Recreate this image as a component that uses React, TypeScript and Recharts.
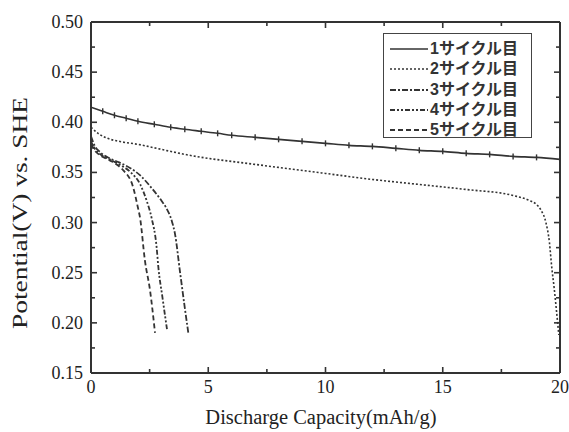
import React from "react";
import { LineChart, Line, XAxis, YAxis, Legend, Label } from "recharts";

// discharge capacity (mAh/g) and potential (V vs SHE) for each cycle
const CYCLE1_CAP = [0, 0.5, 1, 1.5, 2, 2.7, 3.4, 4, 4.7, 5.4, 6, 7, 8, 9, 10, 11, 12, 13, 14, 15, 16, 17, 18, 19, 20];
const CYCLE1_V = [0.415, 0.411, 0.407, 0.404, 0.401, 0.398, 0.395, 0.393, 0.391, 0.389, 0.387, 0.385, 0.383, 0.381, 0.379, 0.377, 0.376, 0.374, 0.372, 0.371, 0.369, 0.368, 0.366, 0.365, 0.363];

const CYCLE2_CAP = [0, 0.3, 0.7, 1.2, 2, 3, 4, 5, 6, 7, 8, 10, 12, 14, 16, 18, 18.7, 19, 19.2, 19.4, 19.55, 19.65, 19.75, 19.85, 19.95];
const CYCLE2_V = [0.395, 0.389, 0.384, 0.381, 0.378, 0.373, 0.368, 0.364, 0.361, 0.358, 0.355, 0.349, 0.343, 0.338, 0.333, 0.327, 0.322, 0.318, 0.312, 0.3, 0.28, 0.255, 0.235, 0.212, 0.188];

const CYCLE3_CAP = [0, 0.15, 0.4, 0.8, 1.2, 1.7, 2.1, 2.6, 3.0, 3.2, 3.44, 3.58, 3.8, 4.0, 4.15];
const CYCLE3_V = [0.386, 0.377, 0.37, 0.364, 0.36, 0.354, 0.347, 0.334, 0.322, 0.315, 0.302, 0.289, 0.25, 0.215, 0.19];

const CYCLE4_CAP = [0, 0.15, 0.4, 0.8, 1.2, 1.7, 2.1, 2.37, 2.58, 2.8, 2.87, 3.05, 3.25];
const CYCLE4_V = [0.381, 0.374, 0.368, 0.363, 0.358, 0.35, 0.338, 0.322, 0.305, 0.275, 0.256, 0.225, 0.192];

const CYCLE5_CAP = [0, 0.15, 0.4, 0.8, 1.2, 1.38, 1.8, 2.0, 2.09, 2.3, 2.52, 2.73];
const CYCLE5_V = [0.378, 0.372, 0.367, 0.362, 0.356, 0.352, 0.335, 0.315, 0.305, 0.262, 0.232, 0.19];

const CYCLE_LABELS = ["1サイクル目", "2サイクル目", "3サイクル目", "4サイクル目", "5サイクル目"];

const X_TICKS = [0, 2.5, 5, 7.5, 10, 12.5, 15, 17.5, 20];
const Y_TICKS = [0.15, 0.175, 0.2, 0.225, 0.25, 0.275, 0.3, 0.325, 0.35, 0.375, 0.4, 0.425, 0.45, 0.475, 0.5];

const toPoints = (cap: number[], v: number[]) => cap.map((x, i) => ({ x, y: v[i] }));

const SERIES = [
  { name: CYCLE_LABELS[0], data: toPoints(CYCLE1_CAP, CYCLE1_V), dash: undefined, width: 1.6 },
  { name: CYCLE_LABELS[1], data: toPoints(CYCLE2_CAP, CYCLE2_V), dash: "2 2", width: 1.6 },
  { name: CYCLE_LABELS[2], data: toPoints(CYCLE3_CAP, CYCLE3_V), dash: "6 2 2 2", width: 1.8 },
  { name: CYCLE_LABELS[3], data: toPoints(CYCLE4_CAP, CYCLE4_V), dash: "5 2 2 2 2 2", width: 1.8 },
  { name: CYCLE_LABELS[4], data: toPoints(CYCLE5_CAP, CYCLE5_V), dash: "5 3", width: 1.8 },
];

const W = 569;
const H = 432;
const PLOT_LEFT = 91;
const PLOT_RIGHT = 560;
const PLOT_TOP = 22;
const PLOT_BOTTOM = 373;
const INK = "#333";
const SERIF = "'Liberation Serif', 'DejaVu Serif', serif";

const isMajorY = (v: number) => Math.round(v * 1000) % 50 === 0;
const isMajorX = (v: number) => Math.round(v * 10) % 50 === 0;

const LeftTick = ({ y, payload }: any) => {
  const major = isMajorY(payload.value);
  return (
    <g>
      <line x1={PLOT_LEFT} x2={PLOT_LEFT + (major ? 6 : 4)} y1={y} y2={y} stroke={INK} strokeWidth={1.6} />
      {major && (
        <text x={PLOT_LEFT - 8} y={y} dy={6} textAnchor="end" fontFamily={SERIF} fontSize={18} fill="#222">
          {payload.value.toFixed(2)}
        </text>
      )}
    </g>
  );
};

const RightTick = ({ y, payload }: any) => {
  const major = isMajorY(payload.value);
  return <line x1={PLOT_RIGHT} x2={PLOT_RIGHT - (major ? 6 : 4)} y1={y} y2={y} stroke={INK} strokeWidth={1.6} />;
};

const BottomTick = ({ x, payload }: any) => {
  const major = isMajorX(payload.value);
  return (
    <g>
      <line x1={x} x2={x} y1={PLOT_BOTTOM} y2={PLOT_BOTTOM - (major ? 6 : 4)} stroke={INK} strokeWidth={1.6} />
      {major && (
        <text x={x} y={PLOT_BOTTOM + 20} textAnchor="middle" fontFamily={SERIF} fontSize={18} fill="#222">
          {payload.value}
        </text>
      )}
    </g>
  );
};

const TopTick = ({ x, payload }: any) => {
  const major = isMajorX(payload.value);
  return <line x1={x} x2={x} y1={PLOT_TOP} y2={PLOT_TOP + (major ? 6 : 4)} stroke={INK} strokeWidth={1.6} />;
};

const crossDot = (props: any) => (
  <line
    key={`c1-${props.index}`}
    x1={props.cx}
    x2={props.cx}
    y1={props.cy - 3}
    y2={props.cy + 3}
    stroke={INK}
    strokeWidth={1.4}
  />
);

const renderLegend = () => (
  <div
    style={{
      width: 149,
      height: 105,
      boxSizing: "border-box",
      border: "1.5px solid #444",
      background: "#fff",
      paddingTop: 5,
    }}
  >
    {SERIES.map((s) => (
      <div key={s.name} style={{ display: "flex", alignItems: "center", height: 20.3 }}>
        <svg width={46} height={10} style={{ flex: "none" }}>
          <line x1={6} x2={44} y1={5} y2={5} stroke={INK} strokeWidth={s.width} strokeDasharray={s.dash} />
        </svg>
        <span
          style={{
            fontFamily: "'Liberation Sans', 'Noto Sans CJK JP', sans-serif",
            fontSize: 16,
            fontWeight: 700,
            color: "#333",
            lineHeight: "18px",
            whiteSpace: "nowrap",
          }}
        >
          {s.name}
        </span>
      </div>
    ))}
  </div>
);

export default function App() {
  return (
    <div style={{ position: "absolute", left: 0, top: 0, width: W, height: H, background: "#fff" }}>
      <LineChart width={W} height={H} margin={{ top: 0, right: 0, bottom: 0, left: 0 }}>
        <XAxis
          xAxisId="b"
          type="number"
          dataKey="x"
          domain={[0, 20]}
          ticks={X_TICKS}
          interval={0}
          height={H - PLOT_BOTTOM}
          tick={<BottomTick />}
          tickLine={false}
          axisLine={{ stroke: INK, strokeWidth: 2 }}
          allowDataOverflow
        >
          <Label
            content={() => (
              <text x={321} y={424} textAnchor="middle" fontFamily={SERIF} fontSize={20.5} fill="#222">
                Discharge Capacity(mAh/g)
              </text>
            )}
          />
        </XAxis>
        <XAxis
          xAxisId="t"
          orientation="top"
          type="number"
          dataKey="x"
          domain={[0, 20]}
          ticks={X_TICKS}
          interval={0}
          height={PLOT_TOP}
          tick={<TopTick />}
          tickLine={false}
          axisLine={{ stroke: INK, strokeWidth: 2 }}
          allowDataOverflow
        />
        <YAxis
          yAxisId="l"
          type="number"
          domain={[0.15, 0.5]}
          ticks={Y_TICKS}
          interval={0}
          width={PLOT_LEFT}
          tick={<LeftTick />}
          tickLine={false}
          axisLine={{ stroke: INK, strokeWidth: 2 }}
          allowDataOverflow
        >
          <Label
            content={() => (
              <text
                x={20}
                y={213}
                transform="rotate(-90 20 213)"
                textAnchor="middle"
                dy={7}
                fontFamily={SERIF}
                fontSize={21}
                textLength={232}
                lengthAdjust="spacingAndGlyphs"
                fill="#222"
              >
                Potential(V) vs. SHE
              </text>
            )}
          />
        </YAxis>
        <YAxis
          yAxisId="r"
          orientation="right"
          type="number"
          domain={[0.15, 0.5]}
          ticks={Y_TICKS}
          interval={0}
          width={W - PLOT_RIGHT}
          tick={<RightTick />}
          tickLine={false}
          axisLine={{ stroke: INK, strokeWidth: 2 }}
          allowDataOverflow
        />
        <Legend
          layout="horizontal"
          verticalAlign="middle"
          align="center"
          content={renderLegend}
          wrapperStyle={{ left: 383, top: 33, width: 149, height: 105 }}
        />
        {SERIES.map((s, i) => (
          <Line
            key={s.name}
            xAxisId="b"
            yAxisId="l"
            data={s.data}
            dataKey="y"
            name={s.name}
            type="monotone"
            stroke={INK}
            strokeWidth={s.width}
            strokeDasharray={s.dash}
            dot={i === 0 ? crossDot : false}
            activeDot={false}
            isAnimationActive={false}
          />
        ))}
      </LineChart>
    </div>
  );
}
